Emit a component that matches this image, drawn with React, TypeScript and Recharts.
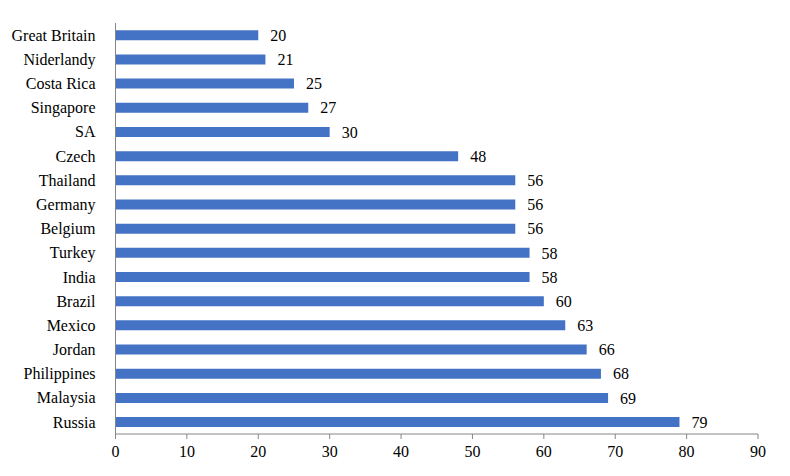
import React from 'react';
import { BarChart, Bar, XAxis, YAxis, LabelList } from 'recharts';

const countries = [
  'Great Britain',
  'Niderlandy',
  'Costa Rica',
  'Singapore',
  'SA',
  'Czech',
  'Thailand',
  'Germany',
  'Belgium',
  'Turkey',
  'India',
  'Brazil',
  'Mexico',
  'Jordan',
  'Philippines',
  'Malaysia',
  'Russia',
];

const values = [20, 21, 25, 27, 30, 48, 56, 56, 56, 58, 58, 60, 63, 66, 68, 69, 79];

const xTicks = [0, 10, 20, 30, 40, 50, 60, 70, 80, 90];

// boundaries between the category bands, used for the small y-axis ticks
const bandEdges = countries.map((_, i) => i).concat(countries.length);

const data = countries.map((name, i) => ({ name, value: values[i] }));

const font = "'Times New Roman', Times, 'Liberation Serif', 'DejaVu Serif', serif";
const axisGray = '#868686';
const textStyle = { fontFamily: font, fontSize: 16 };

export default function App() {
  return (
    <div style={{ margin: -8, fontFamily: font }}>
      <BarChart
        width={790}
        height={476}
        data={data}
        layout="vertical"
        margin={{ top: 23, right: 32, bottom: 12, left: 0 }}
        barCategoryGap="30%"
        style={{ fontFamily: font }}
      >
        <XAxis
          type="number"
          domain={[0, 90]}
          ticks={xTicks}
          interval={0}
          height={30}
          tickSize={5}
          tickMargin={7}
          axisLine={{ stroke: axisGray }}
          tickLine={{ stroke: axisGray }}
          tick={{ fill: '#000', style: textStyle }}
        />
        <YAxis
          yAxisId="edges"
          type="number"
          domain={[0, countries.length]}
          ticks={bandEdges}
          interval={0}
          width={0}
          tickSize={5}
          axisLine={false}
          tickLine={{ stroke: axisGray }}
          tickFormatter={() => ''}
        />
        <YAxis
          yAxisId="cat"
          type="category"
          dataKey="name"
          width={115.5}
          interval={0}
          tickLine={false}
          tickMargin={14}
          axisLine={{ stroke: axisGray }}
          tick={{ fill: '#000', style: textStyle }}
        />
        <Bar yAxisId="cat" dataKey="value" fill="#4472C4" isAnimationActive={false}>
          <LabelList
            dataKey="value"
            position="right"
            offset={12}
            fill="#000"
            style={textStyle}
          />
        </Bar>
      </BarChart>
    </div>
  );
}
